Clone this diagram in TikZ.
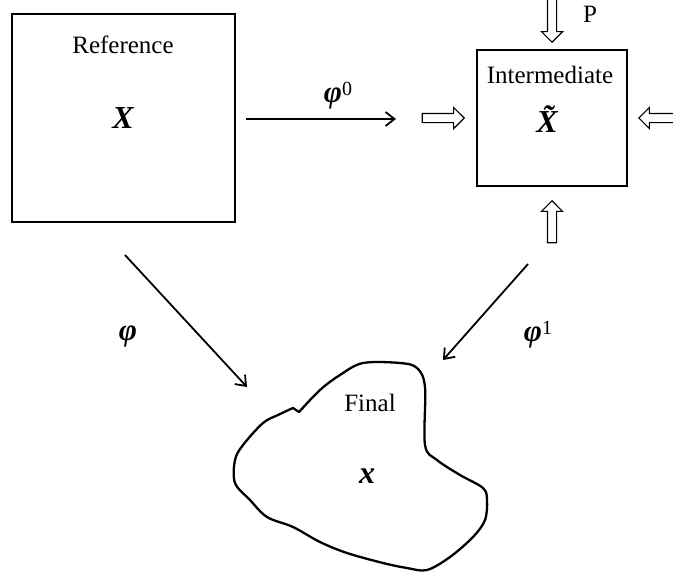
\documentclass[tikz,border=0pt]{standalone}
\usepackage{fontspec}
\setmainfont{Liberation Serif}
\usetikzlibrary{arrows.meta,shapes.arrows}

\begin{document}
\begin{tikzpicture}[x=1pt,y=-1pt,
  frame/.style={draw, line width=2pt, inner sep=0},
  lbl/.style={font=\fontsize{25}{30}\selectfont, inner sep=0},
  sym/.style={font=\fontsize{32}{38}\selectfont\bfseries\itshape, inner sep=0},
  maplbl/.style={font=\fontsize{31}{36}\selectfont, inner sep=0},
  map/.style={line width=1.8pt, -{Straight Barb[length=9pt,width=14pt]}},
  load/.style={draw, line width=1.1pt, single arrow, single arrow head extend=6pt,
    inner xsep=0pt, inner ysep=4pt, anchor=tip},
  outline/.style={line width=2.3pt, line join=round}
]
\useasboundingbox (0,0) rectangle (673,576);

% reference configuration
\node[frame, minimum width=223pt, minimum height=208pt] (ref) at (123.5,118) {};
\node[lbl] (refname) at (123,45) {Reference};
\node[sym] (refsym) at (123,118) {X};

% intermediate configuration
\node[frame, minimum width=150pt, minimum height=136pt] (inter) at (552,118) {};
\node[lbl] (intername) at (550,75) {Intermediate};
\node[sym] (intersym) at (547,119) {\~{X}};

% loads acting on the intermediate configuration
\node[load, minimum height=48pt, rotate=270] (ptop) at (552,43) {};
\node[lbl] (pname) at (590,14) {P};
\node[load, minimum height=42pt] (pleft) at (465,118) {};
\node[load, minimum height=42pt, rotate=180] (pright) at (638,118) {};
\node[load, minimum height=42pt, rotate=90] (pbottom) at (552,200) {};

% final configuration
\draw[outline] plot[smooth, tension=0.55] coordinates {
  (299,412) (320,390) (340,375) (363,363) (400,363) (417,368) (425,387)
  (425,445) (437,460) (460,475) (483,488) (487,500) (485,520) (473,537)
  (450,557) (427,570) (407,568) (383,563) (347,553) (320,542) (293,527)
  (267,517) (250,500) (235,483) (235,460) (243,445) (263,423) (278,415)
  (293,408)} -- cycle;
\node[lbl] (finalname) at (370,403) {Final};
\node[sym] (finalsym) at (367,476) {x};

% mappings
\coordinate (m0a) at (246,119);
\coordinate (m0b) at (396,119);
\coordinate (ma) at (125,255);
\coordinate (mb) at (247,387);
\coordinate (m1a) at (528,264);
\coordinate (m1b) at (443,360);
\draw[map] (m0a) -- (m0b);
\draw[map] (ma) -- (mb);
\draw[map] (m1a) -- (m1b);
\node[maplbl] (phi0) at (338,96) {\textbf{\textit{φ}}\raisebox{0.5ex}{\fontsize{20}{22}\selectfont 0}};
\node[maplbl] (phi) at (128,336) {\textbf{\textit{φ}}};
\node[maplbl] (phi1) at (538,335) {\textbf{\textit{φ}}\raisebox{0.5ex}{\fontsize{20}{22}\selectfont 1}};
\end{tikzpicture}
\end{document}
